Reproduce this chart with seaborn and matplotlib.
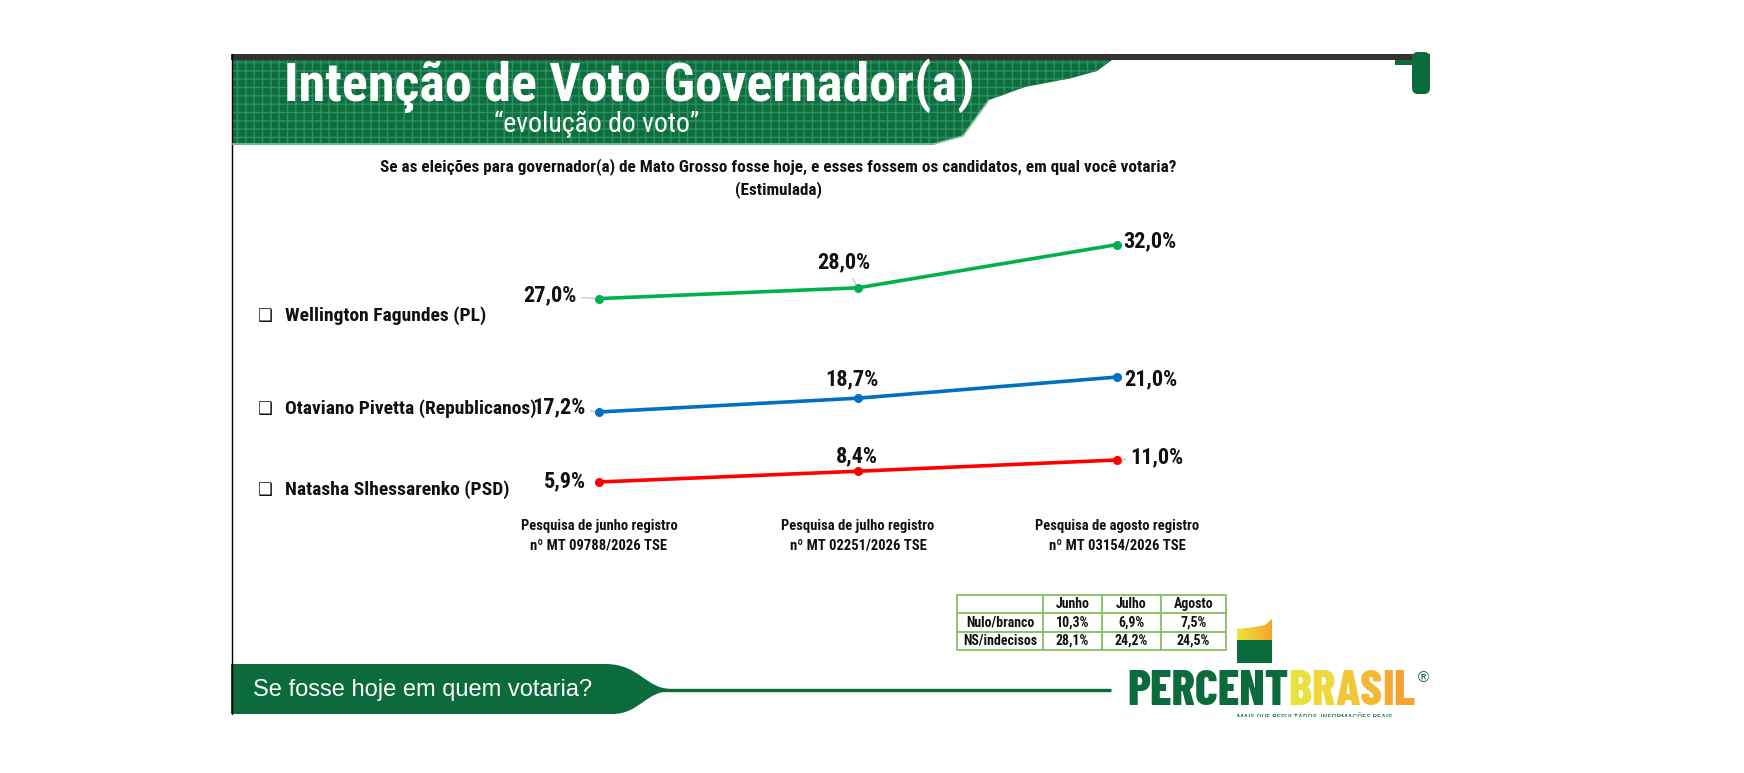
import matplotlib
matplotlib.use("Agg")
import matplotlib.pyplot as plt
from matplotlib import font_manager
from matplotlib.patches import Polygon, Rectangle, PathPatch, FancyBboxPatch
from matplotlib.path import Path
from matplotlib.colors import LinearSegmentedColormap
import numpy as np
import pandas as pd
import seaborn as sns

# dados do grafico
pesquisas = [
    "Pesquisa de junho registro\nnº MT 09788/2026 TSE",
    "Pesquisa de julho registro\nnº MT 02251/2026 TSE",
    "Pesquisa de agosto registro\nnº MT 03154/2026 TSE",
]
candidatos = [
    "Wellington Fagundes (PL)",
    "Otaviano Pivetta (Republicanos)",
    "Natasha Slhessarenko (PSD)",
]
wellington = [27.0, 28.0, 32.0]
otaviano = [17.2, 18.7, 21.0]
natasha = [5.9, 8.4, 11.0]

meses = ["Junho", "Julho", "Agosto"]
nulo_branco = [10.3, 6.9, 7.5]
ns_indecisos = [28.1, 24.2, 24.5]

titulo = "Intenção de Voto Governador(a)"
subtitulo = "\u201cevolução do voto\u201d"
pergunta = ("Se as eleições para governador(a) de Mato Grosso fosse hoje, e esses fossem os "
            "candidatos, em qual você votaria?\n(Estimulada)")
rodape = "Se fosse hoje em quem votaria?"

sns.set_theme(style="white")


def tem_negrito(nome):
    return any(f.name == nome and f.weight in (700, "bold") for f in font_manager.fontManager.ttflist)


# fonte estreita parecida com Arial Narrow
NARROW = "Liberation Sans"
for nome in ["Liberation Sans Narrow", "Nimbus Sans Narrow", "Arial Narrow", "Roboto Condensed",
             "PT Sans Narrow", "IBM Plex Sans Condensed", "Fira Sans Condensed",
             "Asap Condensed", "Barlow Semi Condensed"]:
    if tem_negrito(nome):
        NARROW = nome
        break
LOGO = "Barlow Condensed" if tem_negrito("Barlow Condensed") else NARROW
plt.rcParams["font.family"] = [NARROW, "DejaVu Sans"]

VERDE_ESC = "#0b6b3a"


def pct(v):
    return f"{v:.1f}%".replace(".", ",")


W, H = 1744, 773
fig = plt.figure(figsize=(W / 100, H / 100), dpi=100)
fig.patch.set_facecolor("white")

# fundo em coordenadas de pixel
bg = fig.add_axes([0, 0, 1, 1])
bg.axis("off")

# barra escura superior e borda esquerda
bg.add_patch(Rectangle((231, 54), 1199, 6, color="#333333", lw=0))
bg.plot([232, 232], [54, 714], color="black", lw=1.0)

# faixa do titulo
borda = [(233, 60), (1112, 60), (1097, 71), (1072, 78), (1025, 87), (989, 100),
         (976, 118), (963, 136), (934, 144), (233, 144)]
bg.add_patch(Polygon(borda, closed=True, facecolor="#0d6e3e", edgecolor="#2f9060",
                     hatch="++", lw=0))
bg.plot([233, 934], [144, 144], color="#6fb58c", lw=1.5)
bg.plot([934, 963, 976, 989], [144, 136, 118, 100], color="#8fc7a4", lw=1.2)

# aba superior direita
bg.add_patch(FancyBboxPatch((1412, 52), 18, 42, boxstyle="round,pad=0,rounding_size=6",
                            color=VERDE_ESC, lw=0))
bg.add_patch(Rectangle((1395, 60), 35, 5, color=VERDE_ESC, lw=0))

bg.text(284, 86, titulo, color="white", fontsize=39, fontweight="bold", ha="left", va="center")
bg.text(597, 124, subtitulo, color="white", fontsize=20, ha="center", va="center")
bg.text(778, 178, pergunta, color="#111111", fontsize=12.3, fontweight="bold",
        ha="center", va="center", linespacing=1.5)

# nomes dos candidatos
for nome, y in zip(candidatos, [316, 409, 490]):
    bg.text(257, y, "\u2751", family="DejaVu Sans", fontsize=12, ha="left", va="center", color="#111111")
    bg.text(285, y, nome, fontsize=14, fontweight="bold", ha="left", va="center", color="#111111")

# faixa inferior
forma = Path(
    [(231, 664), (605, 664), (640, 664), (645, 689), (672, 689),
     (672, 691), (645, 691), (640, 714), (612, 714), (231, 714), (231, 664)],
    [Path.MOVETO, Path.LINETO, Path.CURVE4, Path.CURVE4, Path.CURVE4,
     Path.LINETO, Path.CURVE4, Path.CURVE4, Path.CURVE4, Path.LINETO, Path.CLOSEPOLY],
)
bg.add_patch(PathPatch(forma, facecolor=VERDE_ESC, edgecolor="none"))
bg.plot([660, 1111], [690, 690], color=VERDE_ESC, lw=2.4, solid_capstyle="butt")
bg.text(253, 690, rodape, color="white", fontsize=17, family=["Liberation Sans", "DejaVu Sans"],
        ha="left", va="center")

# logotipo
bg.add_patch(Rectangle((1237, 639), 35, 24, color=VERDE_ESC, lw=0))
faixa = Path([(1237, 640), (1237, 629), (1252, 628), (1265, 625), (1272, 619), (1272, 640), (1237, 640)],
             [Path.MOVETO, Path.LINETO, Path.CURVE3, Path.CURVE3, Path.LINETO, Path.LINETO, Path.CLOSEPOLY])
clip = PathPatch(faixa, facecolor="none", edgecolor="none")
bg.add_patch(clip)
grad = np.linspace(0, 1, 64).reshape(1, -1)
cmap_logo = LinearSegmentedColormap.from_list("logo", ["#ece43c", "#f6a42e"])
img = bg.imshow(grad, extent=(1237, 1272, 641, 618), cmap=cmap_logo, aspect="auto", zorder=2)
img.set_clip_path(clip)

rend = fig.canvas.get_renderer()
bg.set_xlim(0, W)
bg.set_ylim(H, 0)
t = bg.text(1127, 692, "PERCENT", color=VERDE_ESC, fontsize=35, fontweight="heavy",
            family=[LOGO, "DejaVu Sans"], ha="left", va="center")
x_fim = bg.transData.inverted().transform((t.get_window_extent(rend).x1, 0))[0]
cores_brasil = ["#e9e23c", "#efd83a", "#f2c737", "#f4b834", "#f5ab31", "#f6a22e"]
for letra, cor in zip("BRASIL", cores_brasil):
    tl = bg.text(x_fim, 692, letra, color=cor, fontsize=35, fontweight="heavy",
                 family=[LOGO, "DejaVu Sans"], ha="left", va="center")
    x_fim = bg.transData.inverted().transform((tl.get_window_extent(rend).x1, 0))[0]
bg.text(x_fim + 3, 678, "\u00ae", color=VERDE_ESC, fontsize=11, ha="left", va="center",
        family=["Liberation Sans", "DejaVu Sans"])
bg.text(1237, 716, "MAIS QUE RESULTADOS, INFORMAÇÕES REAIS", color=VERDE_ESC, fontsize=6,
        ha="left", va="center")
bg.add_patch(Rectangle((1100, 716.5), 400, 57, color="white", lw=0, zorder=5))

# linhas: cada candidato em seu proprio eixo
series = [
    (wellington, "#00b050", (220, 330), (24.09, 34.28),
     [(-22, 3, "right", True), (-14, 25, "center", True), (6, 3, "left", False)]),
    (otaviano, "#0070c0", (350, 430), (15.24, 23.94),
     [(-13, 5, "right", True), (-6, 19, "center", False), (7, -2, "left", False)]),
    (natasha, "#ff0000", (440, 500), (1.72, 15.64),
     [(-13, 1, "right", False), (-1, 15, "center", False), (13, 3, "left", True)]),
]
esq, larg = 469.5, 777
for i, (valores, cor, (top, bot), lim, rot) in enumerate(series):
    ax = fig.add_axes([esq / W, 1 - bot / H, larg / W, (bot - top) / H])
    ax.patch.set_alpha(0)
    df = pd.DataFrame({"pesquisa": range(len(valores)), "valor": valores})
    sns.lineplot(data=df, x="pesquisa", y="valor", ax=ax, color=cor, lw=2.6,
                 marker="o", markersize=6.5, markeredgewidth=0)
    ax.set_xlim(-0.5, 2.5)
    ax.set_ylim(*lim)
    for x, v, (dx, dy, ha, guia) in zip(df["pesquisa"], df["valor"], rot):
        ax.annotate(pct(v), xy=(x, v), xytext=(dx, dy), textcoords="offset pixels",
                    ha=ha, va="center", fontsize=16, fontweight="bold", color="#111111",
                    arrowprops=dict(arrowstyle="-", color="#b0b0b0", lw=0.7, shrinkA=1, shrinkB=3)
                    if guia else None)
    sns.despine(ax=ax, left=True, bottom=True)
    ax.set_yticks([])
    ax.set_xlabel("")
    ax.set_ylabel("")
    if i == len(series) - 1:
        ax.set_xticks(range(len(pesquisas)))
        ax.set_xticklabels(pesquisas, fontsize=10.5, fontweight="bold", color="#111111", linespacing=1.45)
        ax.tick_params(axis="x", length=0, pad=14)
    else:
        ax.set_xticks([])

# tabela de nulos e indecisos
tab_ax = fig.add_axes([957 / W, 1 - 650 / H, 269 / W, 55 / H])
tab_ax.axis("off")
linhas = [["", *meses],
          ["Nulo/branco", *[pct(v) for v in nulo_branco]],
          ["NS/indecisos", *[pct(v) for v in ns_indecisos]]]
larguras = np.array([86, 59, 59, 65]) / 269
tbl = tab_ax.table(cellText=linhas, colWidths=larguras, bbox=[0, 0, 1, 1], cellLoc="center")
tbl.auto_set_font_size(False)
tbl.set_fontsize(10)
for cel in tbl.get_celld().values():
    cel.set_edgecolor("#8fc46f")
    cel.set_linewidth(1.4)
    cel.get_text().set_fontweight("bold")
    cel.get_text().set_color("#111111")

fig.savefig("out.png", dpi=100, facecolor="white")
